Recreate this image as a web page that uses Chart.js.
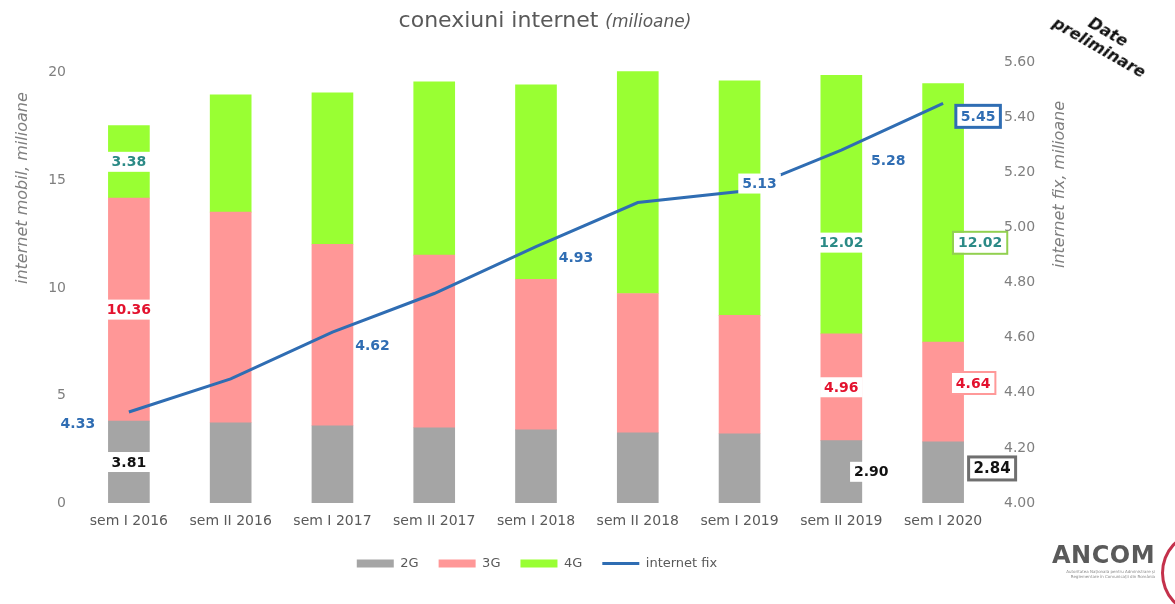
<!DOCTYPE html>
<html>
<head>
<meta charset="utf-8">
<script src="https://cdn.jsdelivr.net/npm/chart.js@4/dist/chart.umd.min.js"></script>
<style>
  html, body { margin: 0; padding: 0; background: #fff; overflow: hidden; }
  #wrap { position: relative; width: 1175px; height: 604px; font-family: "DejaVu Sans", sans-serif; }
  #chart { position: absolute; left: 0; top: 0; }
  .title { position: absolute; left: 0; width: 1090px; top: 7px; text-align: center; color: #595959; font-size: 22px; }
  .title i { font-size: 17px; }
  .axis-title { position: absolute; color: #7f7f7f; font-style: italic; font-size: 16px; white-space: nowrap; transform: rotate(-90deg); transform-origin: left top; }
  .prelim { position: absolute; left: 1036px; top: 22px; width: 135px; text-align: center; font-weight: bold; font-style: italic; font-size: 16px; line-height: 18px; color: #111; transform: rotate(30deg); }
  .logo { position: absolute; left: 1052px; top: 541px; color: #5a5a5a; font-weight: bold; font-size: 24px; letter-spacing: 0.5px; }
  .logo small { display: block; font-size: 4px; font-weight: normal; letter-spacing: 0; color: #888; line-height: 5px; text-align: right; }
  .arc { position: absolute; left: 1161px; top: 532px; width: 70px; height: 76px; border: 3px solid #c4314b; border-radius: 50%; }
</style>
</head>
<body>
<div id="wrap">
  <canvas id="chart" width="1175" height="604"></canvas>
  <div class="title">conexiuni internet <i>(milioane)</i></div>
  <div class="axis-title" style="left:12px; top:284px;">internet mobil, milioane</div>
  <div class="axis-title" style="left:1049px; top:268px;">internet fix, milioane</div>
  <div class="prelim">Date<br>preliminare</div>
  <div class="logo">ANCOM<small>Autoritatea Națională pentru Administrare și<br>Reglementare în Comunicații din România</small></div>
  <div class="arc"></div>
</div>
<script>
// categories and values (millions)
const categories = ["sem I 2016", "sem II 2016", "sem I 2017", "sem II 2017", "sem I 2018",
  "sem II 2018", "sem I 2019", "sem II 2019", "sem I 2020"];
const mobile2G = [3.81, 3.73, 3.59, 3.50, 3.40, 3.26, 3.22, 2.90, 2.84];
const mobile3G = [10.36, 9.79, 8.44, 8.02, 7.00, 6.48, 5.50, 4.96, 4.64];
const mobile4G = [3.38, 5.45, 7.04, 8.06, 9.04, 10.31, 10.91, 12.02, 12.02];
const internetFix = [4.33, 4.45, 4.62, 4.76, 4.93, 5.09, 5.13, 5.28, 5.45];
const leftTicks = [0, 5, 10, 15, 20];
const rightTicks = [4.00, 4.20, 4.40, 4.60, 4.80, 5.00, 5.20, 5.40, 5.60];

const BLUE = "#2f6db3";
const TEAL = "#2b8a86";
const RED = "#e3122e";

// which values get a label (dataset index, point index) and how it looks
const valueLabels = [
  { ds: 0, i: 0, color: "#111", bg: true },
  { ds: 1, i: 0, color: RED, bg: true },
  { ds: 2, i: 0, color: TEAL, bg: true },
  { ds: 0, i: 7, color: "#111", bg: true, dx: 30 },
  { ds: 1, i: 7, color: RED, bg: true },
  { ds: 2, i: 7, color: TEAL, bg: true, dy: 38 },
  { ds: 0, i: 8, color: "#111", bg: true, dx: 49, dy: -4, border: "#6f6f6f", bw: 3, size: 15 },
  { ds: 1, i: 8, color: RED, bg: true, dx: 30, dy: -9, border: "#ff9999", bw: 2 },
  { ds: 2, i: 8, color: TEAL, bg: true, dx: 37, dy: 30, border: "#92d050", bw: 2 },
  { ds: 3, i: 0, color: BLUE, dx: -51, dy: 11 },
  { ds: 3, i: 2, color: BLUE, dx: 40, dy: 13 },
  { ds: 3, i: 4, color: BLUE, dx: 40, dy: 11 },
  { ds: 3, i: 6, color: BLUE, bg: true, dx: 20, dy: -8 },
  { ds: 3, i: 7, color: BLUE, dx: 47, dy: 10 },
  { ds: 3, i: 8, color: BLUE, bg: true, dx: 35, dy: 13, border: BLUE, bw: 3 }
];

const labelPlugin = {
  id: "valueLabels",
  afterDatasetsDraw(chart) {
    const ctx = chart.ctx;
    ctx.save();
    valueLabels.forEach(l => {
      const meta = chart.getDatasetMeta(l.ds);
      const el = meta.data[l.i];
      const value = chart.data.datasets[l.ds].data[l.i];
      const isBar = meta.type === "bar";
      const x = el.x + (l.dx || 0);
      const y = (isBar ? (el.y + el.base) / 2 : el.y) + (l.dy || 0);
      const text = value.toFixed(2);
      const size = l.size || 14;
      ctx.font = "bold " + size + "px 'DejaVu Sans', sans-serif";
      const w = ctx.measureText(text).width + 8;
      const h = size + 6;
      if (l.bg) {
        ctx.fillStyle = "#fff";
        ctx.fillRect(x - w / 2, y - h / 2, w, h);
      }
      if (l.border) {
        ctx.strokeStyle = l.border;
        ctx.lineWidth = l.bw;
        ctx.strokeRect(x - w / 2 - 1, y - h / 2 - 1, w + 2, h + 2);
      }
      ctx.fillStyle = l.color;
      ctx.textAlign = "center";
      ctx.textBaseline = "middle";
      ctx.fillText(text, x, y + 1);
    });
    ctx.restore();
  }
};

const tickFont = { family: "'DejaVu Sans', sans-serif", size: 14 };

new Chart(document.getElementById("chart"), {
  type: "bar",
  data: {
    labels: categories,
    datasets: [
      { label: "2G", data: mobile2G, backgroundColor: "#a5a5a5", stack: "m", yAxisID: "y", barThickness: 41, order: 1 },
      { label: "3G", data: mobile3G, backgroundColor: "#ff9797", stack: "m", yAxisID: "y", barThickness: 41, order: 1 },
      { label: "4G", data: mobile4G, backgroundColor: "#99ff33", stack: "m", yAxisID: "y", barThickness: 41, order: 1 },
      { label: "internet fix", type: "line", data: internetFix, borderColor: BLUE, backgroundColor: BLUE,
        borderWidth: 3, pointRadius: 0, tension: 0, yAxisID: "y1", order: 0 }
    ]
  },
  options: {
    responsive: false,
    animation: false,
    layout: { padding: { top: 62, right: 101, left: 0, bottom: 24 } },
    plugins: {
      tooltip: { enabled: false },
      legend: {
        position: "bottom",
        labels: {
          color: "#595959",
          font: { family: "'DejaVu Sans', sans-serif", size: 13 },
          usePointStyle: true,
          pointStyleWidth: 37,
          boxHeight: 8,
          padding: 20,
          generateLabels(chart) {
            const items = Chart.defaults.plugins.legend.labels.generateLabels(chart);
            items.sort((a, b) => a.datasetIndex - b.datasetIndex);
            items.forEach(it => {
              if (chart.data.datasets[it.datasetIndex].type === "line") {
                it.pointStyle = "line";
                it.lineWidth = 3;
                it.strokeStyle = BLUE;
              } else {
                it.pointStyle = "rect";
                it.lineWidth = 0;
              }
            });
            return items;
          }
        }
      }
    },
    scales: {
      x: {
        stacked: true,
        grid: { display: false },
        border: { display: false },
        ticks: { color: "#595959", font: tickFont, maxRotation: 0, autoSkip: false, padding: 2 },
        afterFit(s) { s.height = 34; }
      },
      y: {
        stacked: true,
        position: "left",
        min: 0,
        max: 20.5,
        grid: { display: false },
        border: { display: false },
        ticks: { color: "#7f7f7f", font: tickFont, padding: 4 },
        afterBuildTicks(s) { s.ticks = leftTicks.map(v => ({ value: v })); },
        afterFit(s) { s.width = 78; }
      },
      y1: {
        position: "right",
        min: 4.0,
        max: 5.6,
        grid: { display: false },
        border: { display: false },
        ticks: { color: "#7f7f7f", font: tickFont, padding: 2, callback: v => Number(v).toFixed(2) },
        afterBuildTicks(s) { s.ticks = rightTicks.map(v => ({ value: v })); },
        afterFit(s) { s.width = 80; }
      }
    }
  },
  plugins: [labelPlugin]
});
</script>
</body>
</html>
